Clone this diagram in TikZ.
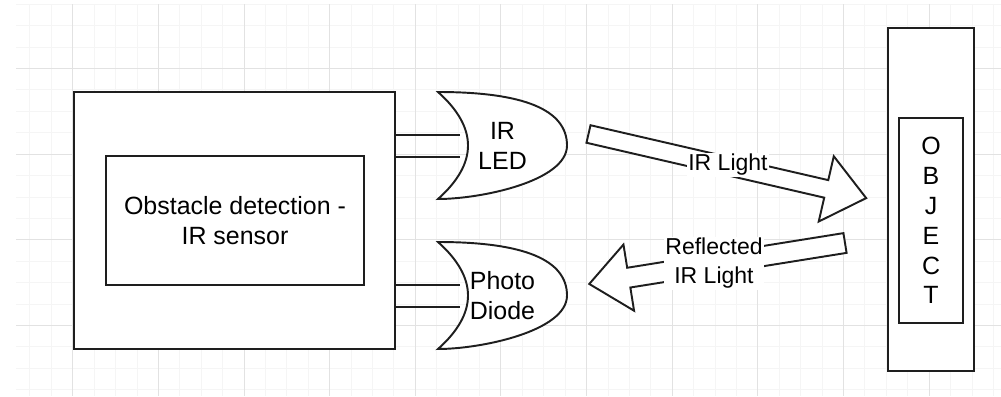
\documentclass[tikz,border=0pt]{standalone}
\usepackage{fontspec}
\setmainfont{Liberation Sans}
\usepackage{tikz}
\usetikzlibrary{calc}
\definecolor{GridMinor}{RGB}{245, 245, 245}
\definecolor{GridMajor}{RGB}{226, 226, 226}
\definecolor{LineDark}{RGB}{30, 30, 30}

\begin{document}
\begin{tikzpicture}[
    x=0.02cm, y=0.02cm,
    box/.style={draw=LineDark, line width=1.1pt, fill=white, inner sep=0pt},
    maintext/.style={font=\fontsize{14.2}{17}\selectfont, align=center, inner sep=0pt},
    beam/.style={draw=LineDark, line width=1.1pt, fill=white, line join=miter},
    beamlabel/.style={font=\fontsize{13.1}{16.5}\selectfont, align=center, fill=white, inner sep=1pt},
    wire/.style={draw=LineDark, line width=1.1pt},
    pics/gate/.style={code={
        \draw[draw=LineDark, line width=1.1pt, fill=white]
          (0,0) .. controls (86,0) and (129,-17.8) .. (129,-53.5)
          .. controls (129,-89.2) and (43,-107) .. (0,-107)
          .. controls (40,-71.3) and (40,-35.7) .. cycle;
    }}
  ]
    % Background and grid
    \useasboundingbox[fill=white] (0,0) rectangle (1001,-396);
    \foreach \i in {0,...,45}
      \draw[GridMinor, line width=0.5pt] (29.9+\i*21.41,-4) -- (29.9+\i*21.41,-396);
    \foreach \j in {0,...,18}
      \draw[GridMinor, line width=0.5pt] (16,-4.2-\j*21.42) -- (1001,-4.2-\j*21.42);
    \foreach \k in {0,...,10}
      \draw[GridMajor, line width=0.5pt] (72.7+\k*85.64,-4) -- (72.7+\k*85.64,-396);
    \foreach \k in {0,...,3}
      \draw[GridMajor, line width=0.5pt] (16,-68.5-\k*85.68) -- (1001,-68.5-\k*85.68);

    % Sensor board
    \node[box, minimum width=6.42cm, minimum height=5.14cm] (sensor) at (234.5,-220.5) {};
    \node[box, maintext, minimum width=5.16cm, minimum height=2.58cm] (sensorcore) at (235,-220.5)
      {Obstacle detection -\\IR sensor};

    % Gates
    \pic (ledgate) at (438,-92) {gate};
    \node[maintext] (led) at (502.5,-145.5) {IR\\LED};
    \pic (diodegate) at (438,-242) {gate};
    \node[maintext] (diode) at (502.5,-295.5) {Photo\\Diode};

    % Wires sensor -> gates
    \coordinate (ledpinA) at (460,-135);
    \coordinate (ledpinB) at (460,-157);
    \coordinate (diodepinA) at (460,-285);
    \coordinate (diodepinB) at (460,-307);
    \draw[wire] (sensor.east |- ledpinA) -- (ledpinA);
    \draw[wire] (sensor.east |- ledpinB) -- (ledpinB);
    \draw[wire] (sensor.east |- diodepinA) -- (diodepinA);
    \draw[wire] (sensor.east |- diodepinB) -- (diodepinB);

    % Object
    \node[box, minimum width=1.72cm, minimum height=6.86cm] (object) at (931,-199.5) {};
    \node[box, maintext, minimum width=1.28cm, minimum height=4.1cm] (objectcore) at (931,-220.5)
      {O\\B\\J\\E\\C\\T};

    % Light beams
    \coordinate (irtail) at (588.5,-134);
    \draw[beam, shift={(irtail)}, rotate=-13]
      (0,9) -- (244,9) -- (244,33.5) -- (285,0) -- (244,-33.5) -- (244,-9) -- (0,-9) -- cycle;
    \coordinate (reftail) at (845,-243);
    \draw[beam, shift={(reftail)}, rotate=189.1]
      (0,10) -- (219,10) -- (219,33.5) -- (259,0) -- (219,-33.5) -- (219,-10) -- (0,-10) -- cycle;

    % Beam labels
    \node[beamlabel] (irlight) at (728,-165) {IR Light};
    \node[beamlabel] (reflight) at (714,-263.5) {Reflected\\IR Light};
  \end{tikzpicture}
\end{document}
